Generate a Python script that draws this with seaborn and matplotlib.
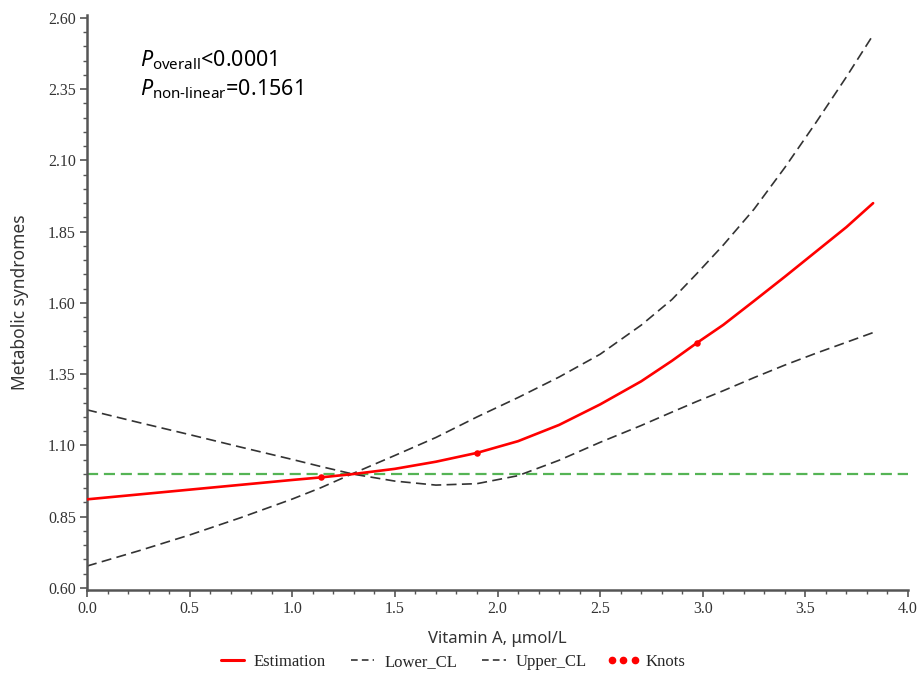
import numpy as np
import pandas as pd
import matplotlib
matplotlib.use("Agg")
import matplotlib.pyplot as plt
from matplotlib.lines import Line2D
from matplotlib.ticker import MultipleLocator, FixedLocator, FormatStrFormatter
import seaborn as sns

# Restricted cubic spline: serum vitamin A vs. odds of metabolic syndrome
vitamin_a = [0.00, 0.25, 0.50, 0.75, 1.00, 1.14, 1.30, 1.50, 1.70, 1.90, 2.10,
             2.30, 2.50, 2.70, 2.85, 2.97, 3.10, 3.25, 3.40, 3.55, 3.70, 3.83]
estimation = [0.911, 0.928, 0.945, 0.962, 0.979, 0.988, 1.000, 1.018, 1.043, 1.074, 1.115,
              1.172, 1.244, 1.325, 1.397, 1.459, 1.523, 1.607, 1.692, 1.779, 1.866, 1.950]
lower_cl = [1.225, 1.181, 1.138, 1.094, 1.051, 1.026, 0.999, 0.975, 0.961, 0.966, 0.994,
            1.048, 1.111, 1.170, 1.217, 1.254, 1.292, 1.338, 1.382, 1.423, 1.462, 1.496]
upper_cl = [0.677, 0.730, 0.786, 0.847, 0.912, 0.952, 1.003, 1.065, 1.128, 1.200, 1.268,
            1.340, 1.420, 1.522, 1.612, 1.702, 1.803, 1.929, 2.075, 2.231, 2.393, 2.540]
knot_x = [1.14, 1.90, 2.97]
knot_y = [0.988, 1.074, 1.459]
reference_or = 1.0

curves = pd.DataFrame({"x": vitamin_a, "est": estimation,
                       "lo": lower_cl, "hi": upper_cl})
knots = pd.DataFrame({"x": knot_x, "y": knot_y})

sns.set_theme(style="ticks")
plt.rcParams["font.family"] = ["Liberation Serif", "DejaVu Serif"]
plt.rcParams["mathtext.fontset"] = "custom"
plt.rcParams["mathtext.rm"] = "Noto Sans"
plt.rcParams["mathtext.it"] = "Noto Sans:italic"

fig = plt.figure(figsize=(9.17, 6.8), dpi=100)
ax = fig.add_axes([87 / 917, 1 - 590 / 680, 821 / 917, 575 / 680])

green = "#55B455"
red = "#FF0000"
dark = "#333333"
ax.axhline(reference_or, color=green, lw=1.6, dashes=(5, 2.6), zorder=1)

sns.lineplot(data=curves, x="x", y="lo", ax=ax, color=dark, lw=1.2, zorder=2)
ax.lines[-1].set_dashes((6, 3.2))
sns.lineplot(data=curves, x="x", y="hi", ax=ax, color=dark, lw=1.2, zorder=2)
ax.lines[-1].set_dashes((6, 3.2))
sns.lineplot(data=curves, x="x", y="est", ax=ax, color=red, lw=1.9, zorder=3)
sns.scatterplot(data=knots, x="x", y="y", ax=ax, color=red, s=22,
                edgecolor=red, linewidth=0, zorder=4)

ax.set_xlim(0, 4.0)
ax.set_ylim(0.593, 2.610)
ax.xaxis.set_major_locator(MultipleLocator(0.5))
ax.xaxis.set_minor_locator(MultipleLocator(0.1))
ax.yaxis.set_major_locator(FixedLocator(np.arange(0.60, 2.61, 0.25)))
ax.yaxis.set_minor_locator(MultipleLocator(0.05))
ax.xaxis.set_major_formatter(FormatStrFormatter("%.1f"))
ax.yaxis.set_major_formatter(FormatStrFormatter("%.2f"))

spine_col = "#555555"
for side in ("top", "right"):
    ax.spines[side].set_visible(False)
for side in ("left", "bottom"):
    ax.spines[side].set_color(spine_col)
    ax.spines[side].set_linewidth(1.8)
ax.tick_params(which="major", length=5, width=1.2, color=spine_col,
               labelsize=11.5, labelcolor=dark, pad=3)
ax.tick_params(which="minor", length=3, width=1.0, color=spine_col)

ax.set_xlabel("Vitamin A, \u03bcmol/L", fontfamily="Noto Sans", fontsize=12,
              color=dark, labelpad=10)
ax.set_ylabel("Metabolic syndromes", fontfamily="Noto Sans", fontsize=12.5,
              color=dark, labelpad=14)

ax.text(0.064, 0.911, r"$\mathit{P}_{\mathrm{overall}}$<0.0001",
        transform=ax.transAxes, fontfamily="Noto Sans", fontsize=15.5,
        color="black", va="baseline", ha="left")
ax.text(0.064, 0.861, r"$\mathit{P}_{\mathrm{non\text{-}linear}}$=0.1561",
        transform=ax.transAxes, fontfamily="Noto Sans", fontsize=15.5,
        color="black", va="baseline", ha="left")

handles = [
    Line2D([], [], color=red, lw=2.2),
    Line2D([], [], color=dark, lw=1.2, dashes=(4, 2.5)),
    Line2D([], [], color=dark, lw=1.2, dashes=(4, 2.5)),
    Line2D([], [], color=red, marker="o", markersize=4.5, linestyle="None"),
]
labels = ["Estimation", "Lower_CL", "Upper_CL", "Knots"]
fig.legend(handles, labels, loc="center", bbox_to_anchor=(0.491, 1 - 662 / 680),
           ncol=4, frameon=False, fontsize=12, numpoints=3,
           handlelength=2.0, handletextpad=0.3, columnspacing=1.2)

fig.savefig("out.png", dpi=100)
